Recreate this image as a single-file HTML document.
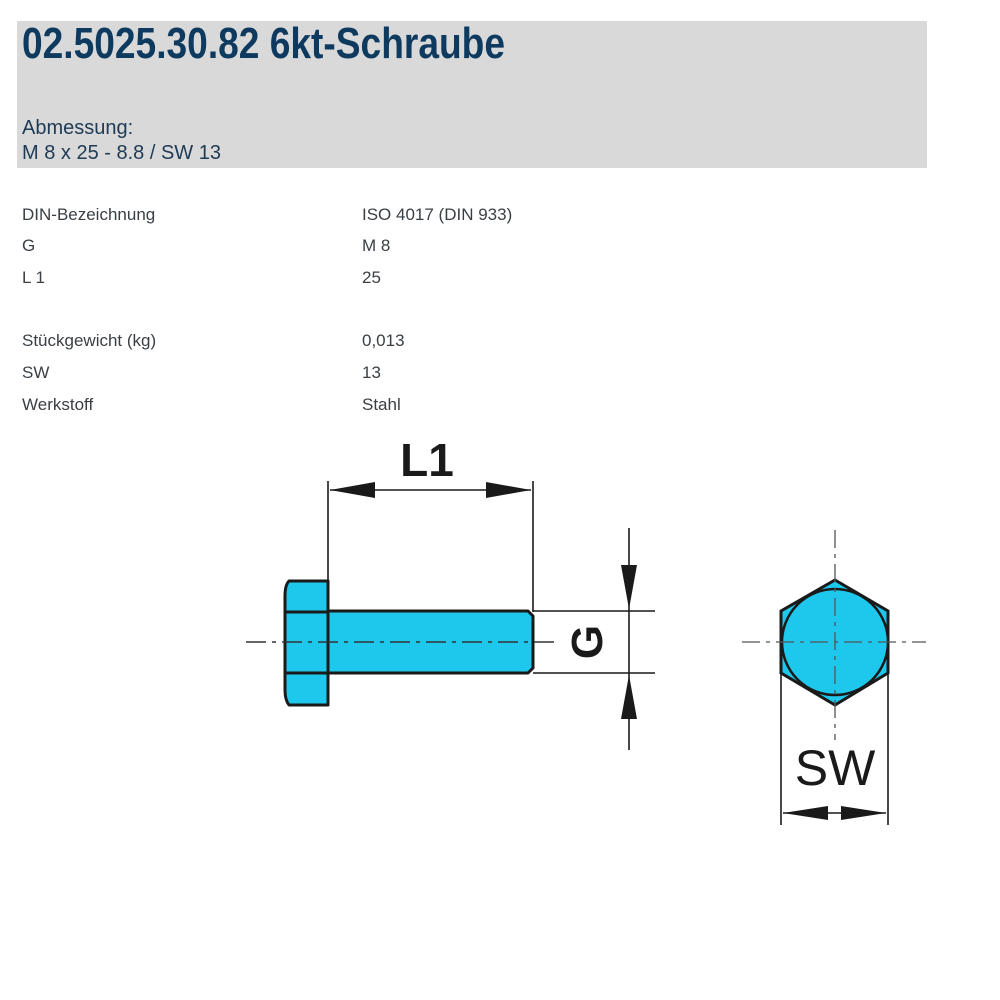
<!DOCTYPE html>
<html><head><meta charset="utf-8"><style>
html,body{margin:0;padding:0;background:#fff;width:1000px;height:1000px;overflow:hidden}
svg{display:block}
</style></head><body>
<svg width="1000" height="1000" viewBox="0 0 1000 1000" xmlns="http://www.w3.org/2000/svg">
<rect x="17" y="21" width="910" height="147" fill="#d9d9d9"/>
<text x="22" y="52" font-family="Liberation Sans, sans-serif" font-weight="bold" font-size="38" fill="#0d3a5e" transform="translate(0,12) scale(1,1.15) translate(0,-12)" textLength="483" lengthAdjust="spacingAndGlyphs">02.5025.30.82 6kt-Schraube</text>
<g font-family="Liberation Sans, sans-serif" font-size="20" fill="#1e3a55">
<text x="22" y="134">Abmessung:</text>
<text x="22" y="159">M 8 x 25 - 8.8 / SW 13</text>
</g>
<g font-family="Liberation Sans, sans-serif" font-size="17" fill="#3a3f44">
<text x="22" y="220">DIN-Bezeichnung</text><text x="362" y="220">ISO 4017 (DIN 933)</text>
<text x="22" y="251">G</text><text x="362" y="251">M 8</text>
<text x="22" y="283">L 1</text><text x="362" y="283">25</text>
<text x="22" y="346">Stückgewicht (kg)</text><text x="362" y="346">0,013</text>
<text x="22" y="378">SW</text><text x="362" y="378">13</text>
<text x="22" y="410">Werkstoff</text><text x="362" y="410">Stahl</text>
</g>
<!-- side view -->
<g stroke="#1a1a1a" fill="#1ec8ec" stroke-width="3" stroke-linejoin="round">
<path d="M289 581 L328 581 L328 705 L289 705 Q285 700 285 690 L285 596 Q285 585 289 581 Z"/>
<line x1="286" y1="612" x2="328" y2="612"/>
<line x1="286" y1="673" x2="328" y2="673"/>
<path d="M328 611 L528 611 L533 616 L533 668 L528 673 L328 673 Z"/>
</g>
<line x1="246" y1="642" x2="555" y2="642" stroke="#333" stroke-width="1.5" stroke-dasharray="20,6,4,6"/>
<g stroke="#1a1a1a" stroke-width="1.6" fill="none">
<line x1="328" y1="481" x2="328" y2="612"/>
<line x1="533" y1="481" x2="533" y2="612"/>
<line x1="330" y1="490" x2="531" y2="490"/>
<line x1="533" y1="611" x2="655" y2="611"/>
<line x1="533" y1="673" x2="655" y2="673"/>
<line x1="629" y1="528" x2="629" y2="750"/>
</g>
<g fill="#1a1a1a">
<polygon points="330,490 375,482 375,498"/>
<polygon points="531,490 486,482 486,498"/>
<polygon points="629,609 621,565 637,565"/>
<polygon points="629,675 621,719 637,719"/>
</g>
<text x="427" y="476" text-anchor="middle" font-family="Liberation Sans, sans-serif" font-weight="bold" font-size="46" fill="#1a1a1a">L1</text>
<text transform="translate(602,642) rotate(-90)" text-anchor="middle" font-family="Liberation Sans, sans-serif" font-weight="bold" font-size="44" fill="#1a1a1a">G</text>
<!-- end view -->
<polygon points="835,580 888,611 888,673 835,705 781,673 781,611" fill="#1ec8ec" stroke="#1a1a1a" stroke-width="3"/>
<circle cx="835" cy="642" r="53" fill="#1ec8ec" stroke="#1a1a1a" stroke-width="2.5"/>
<line x1="742" y1="642" x2="926" y2="642" stroke="#555" stroke-width="1.3" stroke-dasharray="18,6,4,6"/>
<line x1="835" y1="530" x2="835" y2="740" stroke="#555" stroke-width="1.3" stroke-dasharray="18,6,4,6"/>
<g stroke="#1a1a1a" stroke-width="1.6">
<line x1="781" y1="673" x2="781" y2="825"/>
<line x1="888" y1="673" x2="888" y2="825"/>
<line x1="783" y1="813" x2="886" y2="813"/>
</g>
<g fill="#1a1a1a">
<polygon points="783,813 828,806 828,820"/>
<polygon points="886,813 841,806 841,820"/>
</g>
<text x="835" y="785" text-anchor="middle" font-family="Liberation Sans, sans-serif" font-size="50" fill="#1a1a1a">SW</text>
</svg>
</body></html>
